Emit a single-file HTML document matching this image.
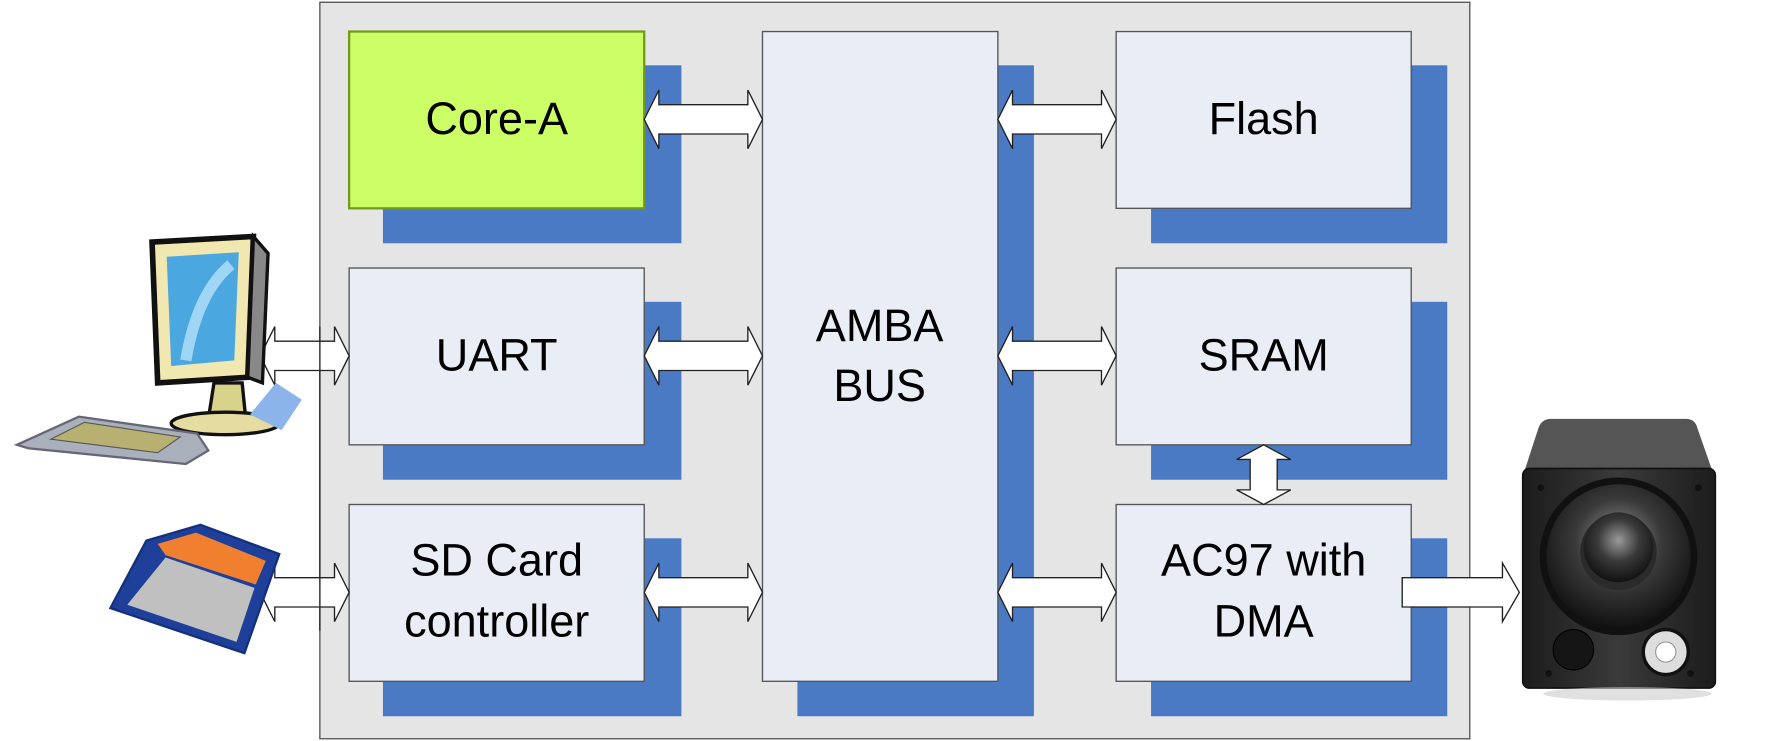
<!DOCTYPE html>
<html><head><meta charset="utf-8"><style>
html,body{margin:0;padding:0;background:#fff;width:1766px;height:741px;overflow:hidden}
svg{display:block}
text{font-family:"Liberation Sans",Arial,sans-serif;font-size:40px;fill:#000;text-anchor:middle}
</style></head><body>
<svg width="1766" height="741" viewBox="0 0 1568 658" preserveAspectRatio="none" xmlns="http://www.w3.org/2000/svg">
<defs>
<radialGradient id="cone" cx="50%" cy="40%" r="60%"><stop offset="0" stop-color="#9a9a9a"/><stop offset="0.5" stop-color="#3a3a3a"/><stop offset="1" stop-color="#111"/></radialGradient>
<linearGradient id="box" x1="0" y1="0" x2="1" y2="0"><stop offset="0" stop-color="#1c1c1c"/><stop offset="0.5" stop-color="#3a3a3a"/><stop offset="1" stop-color="#1c1c1c"/></linearGradient>
</defs>
<rect x="284" y="2" width="1021" height="654" fill="#e5e5e5" stroke="#555" stroke-width="1.2"/>
<g fill="#4a7ac4">
<rect x="340" y="58" width="265" height="158"/>
<rect x="340" y="268" width="265" height="158"/>
<rect x="340" y="478" width="265" height="158"/>
<rect x="708" y="58" width="210" height="578"/>
<rect x="1022" y="58" width="263" height="158"/>
<rect x="1022" y="268" width="263" height="158"/>
<rect x="1022" y="478" width="263" height="158"/>
</g>
<rect x="310" y="28" width="262" height="157" fill="#ccff66" stroke="#6f9a1a" stroke-width="2"/>
<g fill="#e9edf6" stroke="#555" stroke-width="1.2">
<rect x="310" y="238" width="262" height="157"/>
<rect x="310" y="448" width="262" height="157"/>
<rect x="677" y="28" width="209" height="577"/>
<rect x="991" y="28" width="262" height="157"/>
<rect x="991" y="238" width="262" height="157"/>
<rect x="991" y="448" width="262" height="157"/>
</g>
<text x="441" y="119">Core-A</text>
<text x="441" y="329">UART</text>
<text x="441" y="511">SD Card</text>
<text x="441" y="565">controller</text>
<text x="781" y="303">AMBA</text>
<text x="781" y="356">BUS</text>
<text x="1122" y="119">Flash</text>
<text x="1122" y="329">SRAM</text>
<text x="1122" y="511">AC97 with</text>
<text x="1122" y="565">DMA</text>
<g fill="#fff" stroke="#222" stroke-width="1.2">
<path d="M572,106 L585,80 L585,93 L664,93 L664,80 L677,106 L664,132 L664,119 L585,119 L585,132 Z"/>
<path d="M572,316 L585,290 L585,303 L664,303 L664,290 L677,316 L664,342 L664,329 L585,329 L585,342 Z"/>
<path d="M572,526 L585,500 L585,513 L664,513 L664,500 L677,526 L664,552 L664,539 L585,539 L585,552 Z"/>
<path d="M886,106 L899,80 L899,93 L978,93 L978,80 L991,106 L978,132 L978,119 L899,119 L899,132 Z"/>
<path d="M886,316 L899,290 L899,303 L978,303 L978,290 L991,316 L978,342 L978,329 L899,329 L899,342 Z"/>
<path d="M886,526 L899,500 L899,513 L978,513 L978,500 L991,526 L978,552 L978,539 L899,539 L899,552 Z"/>
<path d="M231,316 L244,290 L244,303 L297,303 L297,290 L310,316 L297,342 L297,329 L244,329 L244,342 Z"/>
<path d="M231,526 L244,500 L244,513 L297,513 L297,500 L310,526 L297,552 L297,539 L244,539 L244,552 Z"/>
<path d="M1122,395 L1146,408 L1134,408 L1134,435 L1146,435 L1122,448 L1098,435 L1110,435 L1110,408 L1098,408 Z"/>
<path d="M1245,513 L1334,513 L1334,500 L1349,526 L1334,552 L1334,539 L1245,539 Z"/>
</g>
<line x1="284" y1="290" x2="284" y2="560" stroke="#222" stroke-width="1.2"/>
<!-- computer -->
<g>
<polygon points="135,215 225,210 220,335 140,340" fill="#f0e8b0" stroke="#111" stroke-width="5"/>
<polygon points="148,228 212,224 208,320 152,325" fill="#4aa7e0"/>
<path d="M165,320 Q175,260 205,235" stroke="#9fd6f5" stroke-width="10" fill="none"/>
<polygon points="225,210 238,225 233,340 220,335" fill="#888" stroke="#111" stroke-width="3"/>
<polygon points="190,340 215,340 218,370 185,372" fill="#d8d28a" stroke="#111" stroke-width="3"/>
<ellipse cx="200" cy="376" rx="48" ry="10" fill="#e4dca0" stroke="#111" stroke-width="3"/>
<polygon points="245,340 268,355 250,382 222,368" fill="#8ab4ea"/>
<polygon points="15,395 70,370 175,385 185,400 165,412 25,398" fill="#aab0bb" stroke="#667" stroke-width="2"/>
<polygon points="45,390 75,375 160,388 140,402" fill="#b8b070" stroke="#555" stroke-width="1"/>
</g>
<!-- SD card -->
<g>
<polygon points="130,480 178,466 248,492 217,580 98,540" fill="#1e3f9a" stroke="#14307a" stroke-width="2"/>
<polygon points="140,483 174,473 236,498 227,519 147,493" fill="#f08030"/>
<polygon points="147,495 226,522 210,570 113,537" fill="#c0c0c0"/>
</g>
<!-- speaker -->
<g>
<path d="M1366,380 Q1369,372 1377,372 L1497,372 Q1505,372 1507,380 L1521,420 L1353,420 Z" fill="#555"/>
<rect x="1352" y="416" width="171" height="195" rx="6" fill="url(#box)" stroke="#111" stroke-width="1.5"/>
<ellipse cx="1445" cy="616" rx="75" ry="6" fill="#ccc" opacity="0.6"/>
<circle cx="1437" cy="494" r="70" fill="#111"/>
<circle cx="1437" cy="494" r="64" fill="url(#cone)"/>
<circle cx="1437" cy="490" r="34" fill="#2b2b2b"/>
<circle cx="1437" cy="486" r="31" fill="url(#cone)"/>
<circle cx="1397" cy="577" r="18" fill="#151515" stroke="#000"/>
<circle cx="1479" cy="579" r="20" fill="#ddd" stroke="#111" stroke-width="3"/>
<circle cx="1479" cy="579" r="9" fill="#fff" stroke="#999"/>
<circle cx="1368" cy="433" r="3" fill="#111"/><circle cx="1508" cy="433" r="3" fill="#111"/>
<circle cx="1375" cy="598" r="3" fill="#111"/><circle cx="1501" cy="598" r="3" fill="#111"/>
</g>
</svg>
</body></html>
